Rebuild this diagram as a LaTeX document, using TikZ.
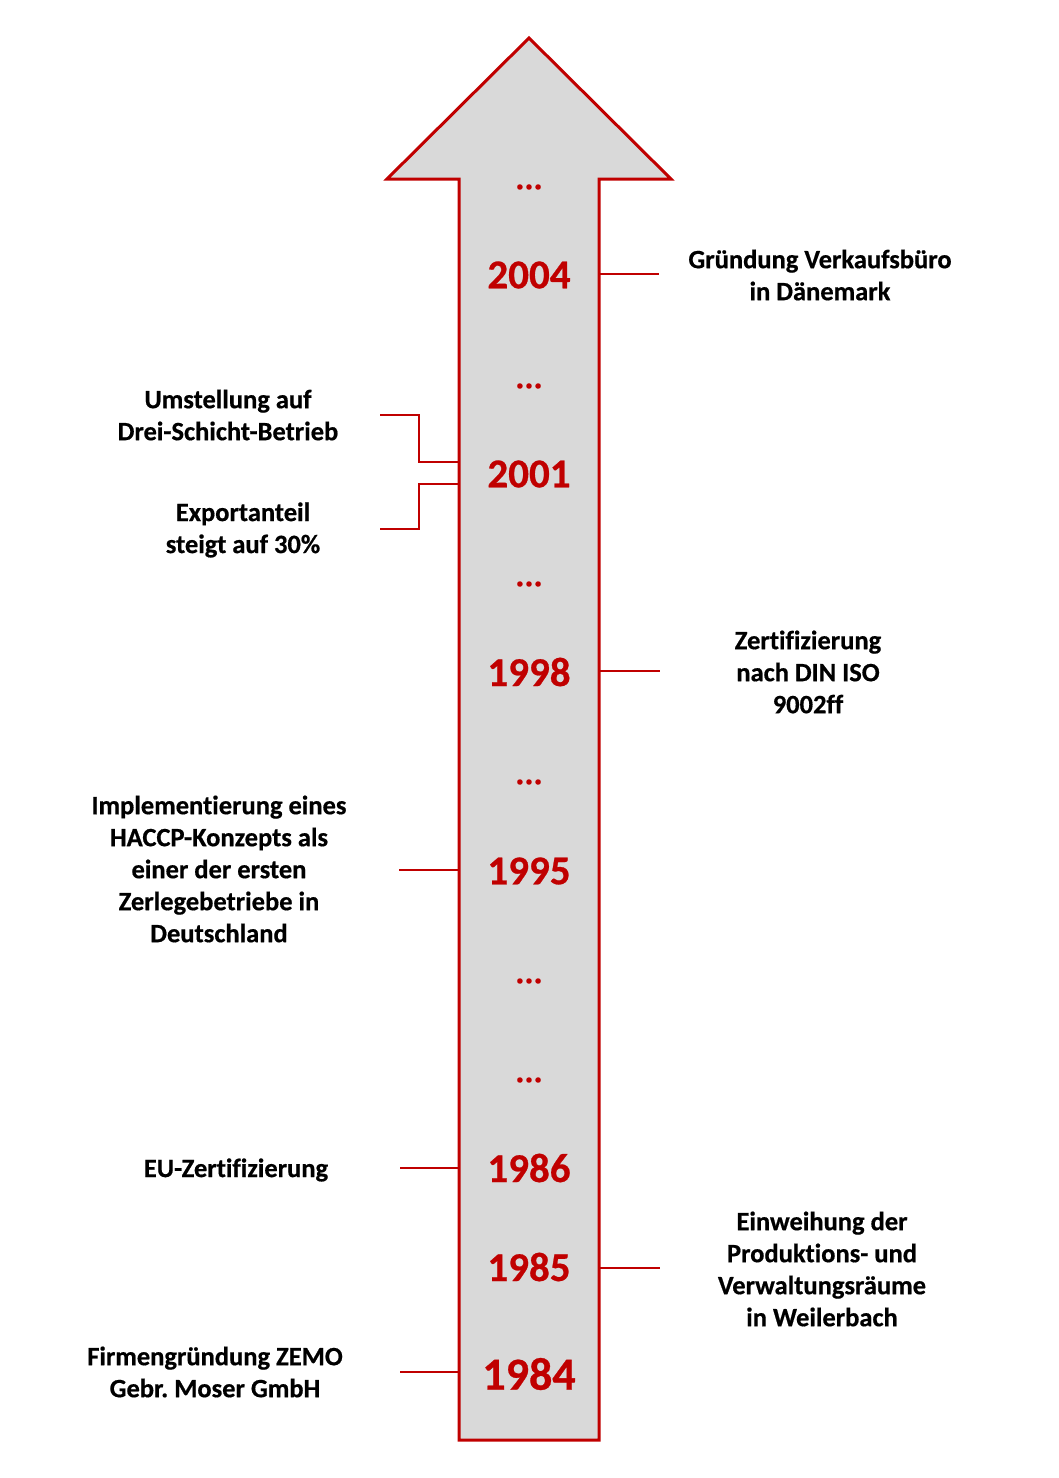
\documentclass[tikz,border=0pt]{standalone}
\usepackage{fontspec}
\setmainfont{Carlito}
\newfontfamily\zfont{Carlito Bold}[FakeBold=0.6,Ligatures=NoCommon]
\definecolor{zred}{HTML}{C00000}
\definecolor{zgray}{HTML}{D9D9D9}
\tikzset{
  x=1pt,y=-1pt,
  arrowbody/.style={draw=zred,fill=zgray,line width=3pt,line join=miter},
  conn/.style={draw=zred,line width=2.5pt},
  year/.style={text=zred,font=\zfont\fontsize{41}{46}\selectfont,inner sep=0pt},
  bigyear/.style={text=zred,font=\zfont\fontsize{46}{50}\selectfont,inner sep=0pt},
  dots/.style={text=zred,font=\zfont\fontsize{34}{40}\selectfont,inner sep=0pt},
  lbl/.style={text=black,font=\zfont\fontsize{26.5}{32}\selectfont,align=center,inner sep=0pt},
}
\begin{document}
\begin{tikzpicture}
\useasboundingbox (0,0) rectangle (1058,1478);
% arrow
\draw[arrowbody] (459,1440) -- (459,179) -- (387,179) -- (529,38) -- (671,179) -- (599,179) -- (599,1440) -- cycle;
% dots
\foreach \yy/\nm in {187/d1,386/d2,584/d3,782/d4,981/d5,1080/d6}
  \node[dots] (\nm) at (529,\yy) {...};
% years
\node[year] (y2004) at (529,275) {2004};
\node[year] (y2001) at (529,474) {2001};
\node[year] (y1998) at (529,672) {1998};
\node[year] (y1995) at (529,871) {1995};
\node[year] (y1986) at (529,1168) {1986};
\node[year] (y1985) at (529,1267) {1985};
\node[bigyear] (y1984) at (529,1374) {1984};
% labels
\node[lbl] (t2004) at (820,275) {Gründung Verkaufsbüro\\in Dänemark};
\node[lbl] (t2001a) at (228,415) {Umstellung auf\\Drei-Schicht-Betrieb};
\node[lbl] (t2001b) at (243,530) {Exportanteil\\steigt auf 30\%};
\node[lbl] (t1998) at (808,672) {Zertifizierung\\nach DIN ISO\\9002ff};
\node[lbl] (t1995) at (219,869) {Implementierung eines\\HACCP-Konzepts als\\einer der ersten\\Zerlegebetriebe in\\Deutschland};
\node[lbl] (t1986) at (236,1170) {EU-Zertifizierung};
\node[lbl] (t1985) at (822,1269) {Einweihung der\\Produktions- und\\Verwaltungsräume\\in Weilerbach};
\node[lbl] (t1984) at (215,1372) {Firmengründung ZEMO\\Gebr.\ Moser GmbH};
% connector coordinates
\coordinate (a2004) at (599,274);  \coordinate (b2004) at (659,274);
\coordinate (a1998) at (599,671);  \coordinate (b1998) at (660,671);
\coordinate (a1985) at (599,1268); \coordinate (b1985) at (660,1268);
\coordinate (a1995) at (459,870);  \coordinate (b1995) at (399,870);
\coordinate (a1986) at (459,1168); \coordinate (b1986) at (400,1168);
\coordinate (a1984) at (459,1372); \coordinate (b1984) at (400,1372);
\coordinate (a2001a) at (459,462); \coordinate (b2001a) at (380,415);
\coordinate (a2001b) at (459,484); \coordinate (b2001b) at (380,529);
% connectors
\draw[conn] (a2004) -- (b2004);
\draw[conn] (a1998) -- (b1998);
\draw[conn] (a1985) -- (b1985);
\draw[conn] (a1995) -- (b1995);
\draw[conn] (a1986) -- (b1986);
\draw[conn] (a1984) -- (b1984);
\draw[conn] (a2001a) -- (419,462) -- (419,415) -- (b2001a);
\draw[conn] (a2001b) -- (419,484) -- (419,529) -- (b2001b);
\end{tikzpicture}
\end{document}
